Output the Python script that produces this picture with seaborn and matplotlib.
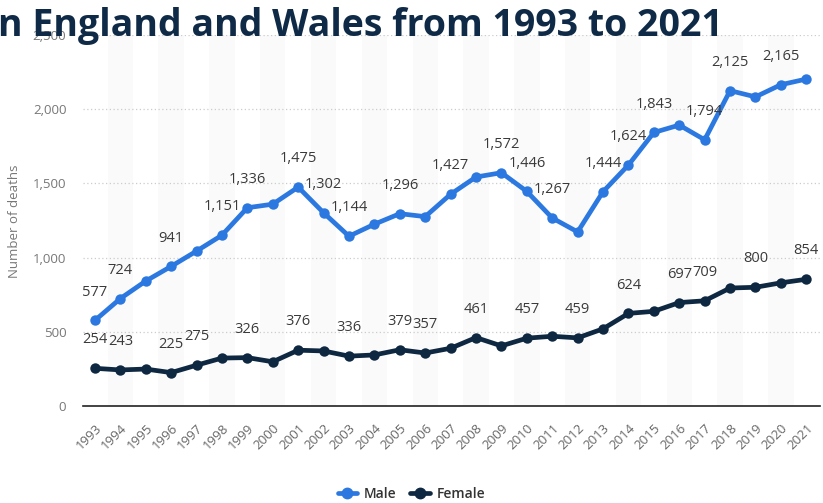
import matplotlib
matplotlib.use("Agg")
import matplotlib.pyplot as plt
import seaborn as sns
import pandas as pd
from matplotlib.lines import Line2D

years = list(range(1993, 2022))
male = [577, 724, 842, 941, 1044, 1151, 1336, 1360, 1475, 1302, 1144, 1225, 1296, 1276,
        1427, 1543, 1572, 1446, 1267, 1173, 1444, 1624, 1843, 1893, 1794, 2125, 2083, 2165, 2203]
female = [254, 243, 249, 225, 275, 323, 326, 298, 376, 371, 336, 344, 379, 357,
          389, 461, 405, 457, 470, 459, 520, 624, 638, 697, 709, 795, 800, 830, 854]
male_labeled = [1993, 1994, 1996, 1998, 1999, 2001, 2002, 2003, 2005, 2007, 2009, 2010,
                2011, 2013, 2014, 2015, 2017, 2018, 2020]
female_labeled = [1993, 1994, 1996, 1997, 1999, 2001, 2003, 2005, 2006, 2008, 2010, 2012,
                  2014, 2016, 2017, 2019, 2021]
series_names = ["Male", "Female"]
y_ticks = [0, 500, 1000, 1500, 2000, 2500]
title_text = "n England and Wales from 1993 to 2021"
y_label = "Number of deaths"

MALE_C = "#2b78e0"
FEMALE_C = "#0e2841"

sns.set_theme(style="white")
plt.rcParams["font.family"] = ["Open Sans", "DejaVu Sans"]

df = pd.DataFrame({
    "year": years * 2,
    "deaths": male + female,
    "sex": [series_names[0]] * len(years) + [series_names[1]] * len(years),
})

fig = plt.figure(figsize=(8.23, 5.03), dpi=100)
ax = fig.add_axes([83 / 823, 1 - 406 / 503, (820 - 83) / 823, (406 - 35) / 503])

# alternating bands
for y in years:
    if (y - 1993) % 2 == 1:
        ax.axvspan(y - 0.5, y + 0.5, color="#fafafa", zorder=0, lw=0)

sns.lineplot(data=df, x="year", y="deaths", hue="sex", palette=[MALE_C, FEMALE_C],
             marker="o", markersize=7.5, markeredgewidth=0, linewidth=3.4, ax=ax,
             legend=False, zorder=3)

for vals, labeled in ((male, male_labeled), (female, female_labeled)):
    for y, v in zip(years, vals):
        if y in labeled:
            ax.annotate(f"{v:,}", (y, v), xytext=(0, 15), textcoords="offset points",
                        ha="center", va="bottom", fontsize=10.5, color="#3a3a3a", zorder=4)

ax.set_xlim(1992.53, 2021.54)
ax.set_ylim(0, 2500)
ax.set_yticks(y_ticks)
ax.set_yticklabels([f"{t:,}" for t in y_ticks], fontsize=9.5, color="#777777")
ax.set_xticks(years)
ax.set_xticklabels([str(y) for y in years], rotation=45, ha="right",
                   rotation_mode="anchor", fontsize=9.5, color="#666666")
ax.tick_params(axis="both", length=0)
ax.tick_params(axis="y", pad=12)
ax.tick_params(axis="x", pad=11)
for t in y_ticks[1:]:
    ax.axhline(t, color="#cccccc", lw=0.9, ls=(0, (1, 2)), zorder=1)
for s in ["top", "right", "left"]:
    ax.spines[s].set_visible(False)
ax.spines["bottom"].set_color("#222222")
ax.spines["bottom"].set_linewidth(1.2)
ax.set_xlabel("")
ax.set_ylabel("")
fig.text(15 / 823, 1 - 221 / 503, y_label, rotation=90, ha="center", va="center",
         fontsize=9.5, color="#777777")

fig.text(-0.002, 1 - 36 / 503, title_text, fontsize=27, fontweight="bold",
         color="#0f2a47", ha="left", va="baseline", zorder=10)

handles = [Line2D([0], [0], color=MALE_C, lw=3.4, marker="o", markersize=7.5),
           Line2D([0], [0], color=FEMALE_C, lw=3.4, marker="o", markersize=7.5)]
leg = fig.legend(handles, series_names, loc="center", bbox_to_anchor=(0.5, 1 - 494 / 503),
                 ncol=2, frameon=False, handlelength=1.4, columnspacing=1.0,
                 handletextpad=0.5, prop={"size": 10, "weight": "semibold"})
for t in leg.get_texts():
    t.set_color("#333333")

fig.savefig("out.png", dpi=100)
